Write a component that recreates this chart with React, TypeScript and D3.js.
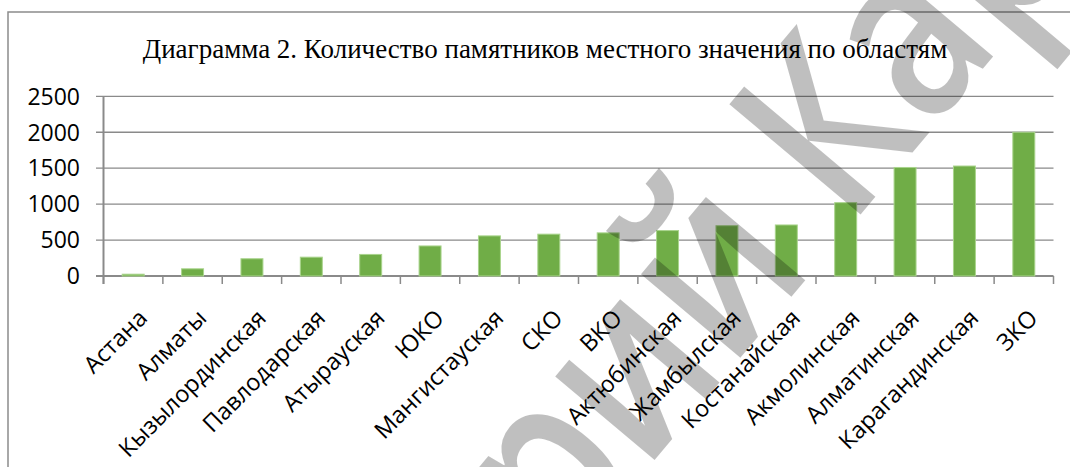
import * as d3 from "d3";

const regions = [
  "Астана", "Алматы", "Кызылординская", "Павлодарская", "Атырауская", "ЮКО",
  "Мангистауская", "СКО", "ВКО", "Актюбинская", "Жамбылская", "Костанайская",
  "Акмолинская", "Алматинская", "Карагандинская", "ЗКО",
];
const monuments = [25, 100, 240, 262, 300, 418, 558, 582, 600, 632, 700, 710, 1020, 1510, 1530, 2000];
const yTicks = [0, 500, 1000, 1500, 2000, 2500];
const title = "Диаграмма 2. Количество памятников местного значения по областям";

const W = 1070;
const H = 467;

export default function App() {
  const x = d3
    .scaleBand<string>()
    .domain(regions)
    .range([103.5, 1053.5])
    .paddingInner(0.63)
    .paddingOuter(0.315);
  const y = d3.scaleLinear().domain([0, 2500]).range([276, 96.3]);
  const step = x.step();
  const left = 103.5;
  const right = 1053.5;
  const sans = "'Open Sans', sans-serif";

  return (
    <svg
      width={W}
      height={H}
      style={{ position: "absolute", left: 0, top: 0, background: "#fff" }}
    >
      <rect x={8} y={12} width={1100} height={500} fill="#fff" stroke="#8c8c8c" strokeWidth={1.5} />
      <text
        x={545}
        y={58}
        textAnchor="middle"
        fontFamily="'Liberation Serif', 'Times New Roman', serif"
        fontSize={27}
        fill="#000"
      >
        {title}
      </text>

      {yTicks.map((t) => (
        <g key={t}>
          <line x1={96} x2={right} y1={y(t)} y2={y(t)} stroke="#8a8a8a" strokeWidth={t === 0 ? 2 : 1.3} />
          <text x={80} y={y(t)} dy="0.36em" textAnchor="end" fontFamily={sans} fontSize={23} fill="#000">
            {t}
          </text>
        </g>
      ))}
      <line x1={left} x2={left} y1={y(2500)} y2={284} stroke="#8a8a8a" strokeWidth={2} />
      {d3.range(regions.length + 1).map((i) => (
        <line key={i} x1={left + i * step} x2={left + i * step} y1={276} y2={284} stroke="#8a8a8a" strokeWidth={1.5} />
      ))}

      {regions.map((r, i) => (
        <rect
          key={r}
          x={x(r)}
          y={y(monuments[i])}
          width={x.bandwidth()}
          height={y(0) - y(monuments[i])}
          fill="#70ad47"
          stroke="#a9d48c"
          strokeWidth={1}
        />
      ))}

      {regions.map((r) => {
        const cx = (x(r) ?? 0) + x.bandwidth() / 2;
        return (
          <text
            key={r}
            transform={`translate(${cx + 3.5},${307.5}) rotate(-45)`}
            dy="0.72em"
            textAnchor="end"
            fontFamily={sans}
            fontSize={23.5}
            fill="#000"
          >
            {r}
          </text>
        );
      })}

      <g fill="#000" fillOpacity={0.25} fontFamily={sans} fontWeight={600} fontSize={240}>
        <text transform="translate(730,370) rotate(-50) scale(0.82,1)" textAnchor="end">Репозитори</text>
        <text transform="translate(730,370) rotate(-50) scale(0.82,1)">й КарГУ</text>
      </g>
    </svg>
  );
}
